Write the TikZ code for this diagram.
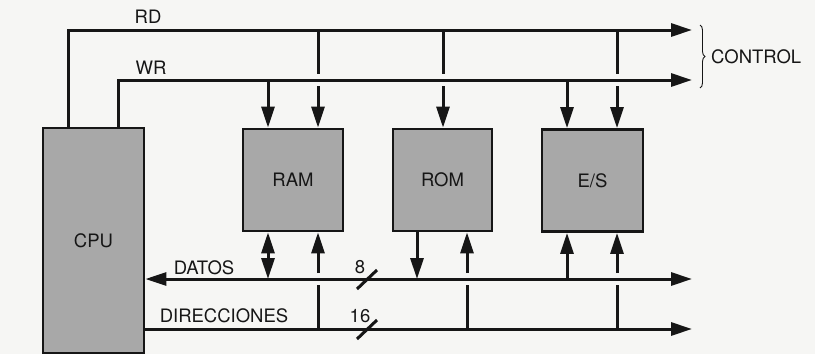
\documentclass[tikz,border=0pt]{standalone}
\usepackage{fontspec}
\setmainfont{TeX Gyre Heros}
\usetikzlibrary{arrows.meta,decorations.pathreplacing,calc}
\definecolor{boxgray}{RGB}{168,168,168}
\definecolor{ink}{RGB}{22,22,22}
\definecolor{paper}{RGB}{246,246,244}
\begin{document}
\begin{tikzpicture}[x=1pt,y=-1pt,
  unit/.style={draw=ink, fill=boxgray, line width=2.8pt, inner sep=0pt, font=\fontsize{18.5}{22}\selectfont, text=ink},
  bus/.style={draw=ink, line width=3pt},
  arr/.style={-{Triangle[length=21pt,width=13pt]}},
  darr/.style={{Triangle[length=21pt,width=13pt]}-{Triangle[length=21pt,width=13pt]}},
  lbl/.style={font=\fontsize{18.5}{22}\selectfont, text=ink, inner sep=0pt}]
\fill[paper] (0,0) rectangle (815,354);
\useasboundingbox (0,0) rectangle (815,354);
% units
\node[unit, minimum width=101pt, minimum height=225pt] (cpu) at (93.5,240.5) {CPU};
\node[unit, minimum width=100pt, minimum height=102pt] (ram) at (293,180) {RAM};
\node[unit, minimum width=99pt, minimum height=102pt] (rom) at (442.5,180) {ROM};
\node[unit, minimum width=101pt, minimum height=102pt] (es) at (592.5,180.5) {E/S};
% bus coordinates
\coordinate (rdS) at (68,30);  \coordinate (rdE) at (692,30);
\coordinate (wrS) at (118,80); \coordinate (wrE) at (692,80);
\coordinate (dat) at (0,279);  \coordinate (datE) at (692,279);
\coordinate (dir) at (0,329);  \coordinate (dirE) at (692,329);
\coordinate (xa) at (268,0); \coordinate (xb) at (318,0);
\coordinate (xc) at (443,0); \coordinate (xd) at (417,0); \coordinate (xe) at (467,0);
\coordinate (xf) at (567,0); \coordinate (xg) at (617,0);
% control bus
\draw[bus,arr] (cpu.north -| rdS) -- (rdS) -- (rdE);
\draw[bus,arr] (cpu.north -| wrS) -- (wrS) -- (wrE);
\node[lbl] (rdl) at (148,17) {RD};
\node[lbl] (wrl) at (151,68) {WR};
% control arrows
\draw[bus,arr] (wrE -| xa) -- (ram.north -| xa);
\draw[bus] (rdE -| xb) -- ($(wrE -| xb)+(0,-6)$);
\draw[bus,arr] ($(wrE -| xb)+(0,6)$) -- (ram.north -| xb);
\draw[bus] (rdE -| xc) -- ($(wrE -| xc)+(0,-6)$);
\draw[bus,arr] ($(wrE -| xc)+(0,6)$) -- (rom.north -| xc);
\draw[bus,arr] (wrE -| xf) -- (es.north -| xf);
\draw[bus] (rdE -| xg) -- ($(wrE -| xg)+(0,-6)$);
\draw[bus,arr] ($(wrE -| xg)+(0,6)$) -- (es.north -| xg);
% brace
\draw[ink, line width=0.9pt, decorate, decoration={brace, amplitude=5pt}] (700,25) -- (700,88);
\node[lbl, anchor=west] (ctl) at (711,57) {CONTROL};
% data and address buses
\draw[bus,darr] (cpu.east |- dat) -- (datE);
\draw[bus,arr] (cpu.east |- dir) -- (dirE);
\node[lbl] (datl) at (204,268) {DATOS};
\node[lbl] (dirl) at (224,316) {DIRECCIONES};
\draw[bus] (357,289) -- (377,270);
\draw[bus] (357,339) -- (377,320);
\node[lbl] (n8) at (360,267) {8};
\node[lbl] (n16) at (360,316) {16};
% bottom arrows
\draw[bus,darr] (ram.south -| xa) -- (dat -| xa);
\draw[bus] (dir -| xb) -- ($(dat -| xb)+(0,6)$);
\draw[bus,arr] ($(dat -| xb)+(0,-6)$) -- (ram.south -| xb);
\draw[bus,arr] (rom.south -| xd) -- (dat -| xd);
\draw[bus] (dir -| xe) -- ($(dat -| xe)+(0,6)$);
\draw[bus,arr] ($(dat -| xe)+(0,-6)$) -- (rom.south -| xe);
\draw[bus,arr] (dat -| xf) -- (es.south -| xf);
\draw[bus] (dir -| xg) -- ($(dat -| xg)+(0,6)$);
\draw[bus,arr] ($(dat -| xg)+(0,-6)$) -- (es.south -| xg);
\end{tikzpicture}
\end{document}
